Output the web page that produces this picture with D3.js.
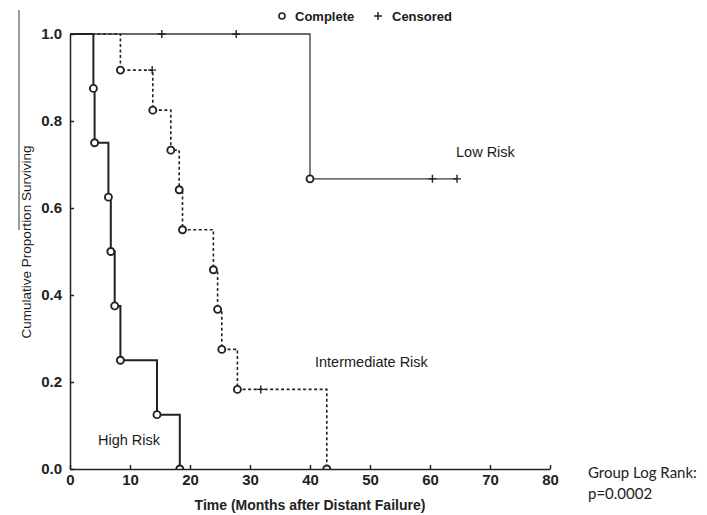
<!DOCTYPE html>
<html>
<head>
<meta charset="utf-8">
<script src="https://cdn.jsdelivr.net/npm/d3@7"></script>
<style>
  body { margin: 0; background: #fff; }
  svg { display: block; }
  .tick text { font-family: "Liberation Sans Narrow", "Liberation Sans", Arial, sans-serif; font-weight: bold; font-size: 15px; fill: #222; }
  .axes path, .axes line { stroke: #222; stroke-width: 1.5; }
  .lbl { font-family: "Liberation Sans", Arial, sans-serif; font-size: 14.5px; fill: #1a1a1a; }
</style>
</head>
<body>
<div id="graph"></div>
<script>
// Kaplan-Meier steps: time (months), survival after the step, censored flag
const lowTime   = [15.3, 27.7, 40.0, 60.4, 64.5];
const lowSurv   = [1.0, 1.0, 0.667, 0.667, 0.667];
const lowCens   = [1, 1, 0, 1, 1];
const lowEnd    = 64.5;

const interTime = [8.4, 13.7, 13.8, 16.8, 18.2, 18.75, 23.9, 24.6, 25.3, 27.9, 31.8, 42.8];
const interSurv = [0.917, 0.917, 0.825, 0.733, 0.642, 0.55, 0.458, 0.367, 0.275, 0.183, 0.183, 0.0];
const interCens = [0, 1, 0, 0, 0, 0, 0, 0, 0, 0, 1, 0];

const highTime  = [3.9, 4.1, 6.4, 6.8, 7.45, 8.4, 14.5, 18.3];
const highSurv  = [0.875, 0.75, 0.625, 0.5, 0.375, 0.25, 0.125, 0.0];
const highCens  = [0, 0, 0, 0, 0, 0, 0, 0];

const xTicks = [0, 10, 20, 30, 40, 50, 60, 70, 80];
const yTicks = [0, 0.2, 0.4, 0.6, 0.8, 1.0];

// dimensions
const fWidth = 707, fHeight = 515;
const ml = 70, mt = 34, plotW = 480, plotH = 435;

let x = d3.scaleLinear().domain([0, 80]).range([0, plotW]);
let y = d3.scaleLinear().domain([0, 1]).range([plotH, 0]);

let root = d3.select("#graph").append("svg")
    .attr("width", fWidth)
    .attr("height", fHeight);

// stray scan line at the far left
root.append("line")
    .attr("x1", 19).attr("x2", 19)
    .attr("y1", 10).attr("y2", 230)
    .attr("stroke", "#666").attr("stroke-width", 1.3);

let svg = root.append("g")
    .attr("transform", `translate(${ml}, ${mt})`);

svg.append("clipPath").attr("id", "clip")
  .append("rect").attr("x", -5).attr("y", -10).attr("width", plotW + 10).attr("height", plotH + 10);

// build step path: start at (0,1), for each point go horizontal then vertical
function steps(times, surv, end) {
  let pts = [[0, 1]];
  let prev = 1;
  times.forEach((t, i) => {
    pts.push([t, prev]);
    pts.push([t, surv[i]]);
    prev = surv[i];
  });
  if (end !== undefined) pts.push([end, prev]);
  return pts;
}

let line = d3.line().x(d => x(d[0])).y(d => y(d[1]));

const groups = [
  {t: lowTime, s: lowSurv, c: lowCens, end: lowEnd, stroke: "#3a3a3a", w: 1.3, dash: null},
  {t: interTime, s: interSurv, c: interCens, end: undefined, stroke: "#222", w: 1.6, dash: "3,2.5"},
  {t: highTime, s: highSurv, c: highCens, end: undefined, stroke: "#222", w: 2, dash: null}
];

let plot = svg.append("g").attr("clip-path", "url(#clip)");

groups.forEach(g => {
  plot.append("path")
    .datum(steps(g.t, g.s, g.end))
    .attr("fill", "none")
    .attr("stroke", g.stroke)
    .attr("stroke-width", g.w)
    .attr("stroke-dasharray", g.dash)
    .attr("d", line);

  g.t.forEach((t, i) => {
    if (g.c[i]) {
      plot.append("path")
        .attr("d", `M${x(t) - 4},${y(g.s[i])}h8M${x(t)},${y(g.s[i]) - 4}v8`)
        .attr("stroke", "#222").attr("stroke-width", 1.4);
    } else {
      plot.append("circle")
        .attr("cx", x(t)).attr("cy", y(g.s[i]))
        .attr("r", 3.5)
        .attr("fill", "#fff")
        .attr("stroke", "#222").attr("stroke-width", 1.9);
    }
  });
});

// axes with inward ticks
svg.append("g")
    .attr("class", "axes")
    .attr("transform", `translate(0, ${plotH})`)
    .call(d3.axisBottom(x).tickValues(xTicks).tickFormat(d3.format("d")).tickSizeInner(-4).tickSizeOuter(0).tickPadding(5));

svg.append("g")
    .attr("class", "axes")
    .call(d3.axisLeft(y).tickValues(yTicks).tickFormat(d3.format(".1f")).tickSizeInner(-4).tickSizeOuter(0).tickPadding(8));

svg.selectAll(".domain").attr("stroke-width", 1.8);

// axis titles
svg.append("text")
    .attr("x", 240).attr("y", 476)
    .attr("text-anchor", "middle")
    .style("font-family", "'Liberation Sans Narrow', 'Liberation Sans', Arial, sans-serif")
    .style("font-weight", "bold").style("font-size", "14px").style("fill", "#222")
    .text("Time (Months after Distant Failure)");

root.append("text")
    .attr("transform", "translate(31, 242) rotate(-90)")
    .attr("text-anchor", "middle")
    .attr("class", "lbl").style("font-size", "13.5px")
    .text("Cumulative Proportion Surviving");

// group labels
root.append("text").attr("class", "lbl").attr("x", 456).attr("y", 157).text("Low Risk");
root.append("text").attr("class", "lbl").attr("x", 315).attr("y", 367).text("Intermediate Risk");
root.append("text").attr("class", "lbl").attr("x", 98).attr("y", 445).text("High Risk");

// legend
root.append("circle").attr("cx", 282).attr("cy", 16).attr("r", 3)
    .attr("fill", "#fff").attr("stroke", "#222").attr("stroke-width", 1.6);
root.append("text").attr("class", "lbl").attr("x", 295).attr("y", 21)
    .style("font-weight", "bold").style("font-size", "13px").text("Complete");
root.append("path").attr("d", "M374,16h8M378,12v8").attr("stroke", "#222").attr("stroke-width", 1.5);
root.append("text").attr("class", "lbl").attr("x", 392).attr("y", 21)
    .style("font-weight", "bold").style("font-size", "13px").text("Censored");

// log rank note
root.append("text").attr("x", 588).attr("y", 478)
    .style("font-family", "Lato, 'Open Sans', sans-serif").style("font-size", "15px").style("fill", "#222")
    .text("Group Log Rank:");
root.append("text").attr("x", 588).attr("y", 499)
    .style("font-family", "Lato, 'Open Sans', sans-serif").style("font-size", "15px").style("fill", "#222")
    .text("p=0.0002");
</script>
</body>
</html>
